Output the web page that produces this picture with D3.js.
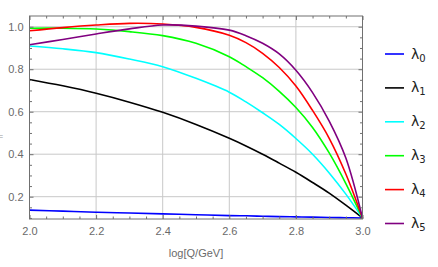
<!DOCTYPE html>
<html>
<head>
<meta charset="utf-8">
<script src="https://cdn.jsdelivr.net/npm/d3@7"></script>
<style>
  body { margin: 0; background: #fff; }
  svg { display: block; font-family: "Liberation Sans", Arial, sans-serif; }
</style>
</head>
<body>
<svg id="chart" width="438" height="267"></svg>
<script>
// sample points along log[Q/GeV]
const xs = [2.0, 2.1, 2.2, 2.3, 2.4, 2.5, 2.6, 2.65, 2.7, 2.75, 2.8, 2.85, 2.9, 2.95, 3.0];

const lambda0 = [0.137, 0.132, 0.127, 0.123, 0.119, 0.115, 0.111, 0.11, 0.108, 0.106, 0.105, 0.104, 0.102, 0.101, 0.1];
const lambda1 = [0.752, 0.722, 0.687, 0.645, 0.597, 0.54, 0.475, 0.439, 0.40, 0.358, 0.315, 0.267, 0.217, 0.16, 0.1];
const lambda2 = [0.909, 0.896, 0.878, 0.848, 0.812, 0.757, 0.692, 0.646, 0.595, 0.54, 0.474, 0.40, 0.312, 0.212, 0.1];
const lambda3 = [0.993, 0.993, 0.989, 0.977, 0.958, 0.922, 0.859, 0.812, 0.76, 0.696, 0.62, 0.526, 0.406, 0.262, 0.1];
const lambda4 = [0.981, 0.996, 1.008, 1.016, 1.013, 0.997, 0.96, 0.925, 0.875, 0.808, 0.721, 0.606, 0.475, 0.307, 0.1];
const lambda5 = [0.915, 0.94, 0.966, 0.99, 1.008, 1.003, 0.984, 0.958, 0.922, 0.872, 0.795, 0.69, 0.556, 0.382, 0.1];

const seriesNames = ['0', '1', '2', '3', '4', '5'];
const seriesValues = [lambda0, lambda1, lambda2, lambda3, lambda4, lambda5];
const colors = ['#0000ff', '#000000', '#00ffff', '#00ff00', '#ff0000', '#800080'];

const xTicks = [2.0, 2.2, 2.4, 2.6, 2.8, 3.0];
const yTicks = [0.2, 0.4, 0.6, 0.8, 1.0];

const svg = d3.select('#chart');
const pLeft = 29.5, pRight = 362.5, pTop = 16, pBottom = 219;

const x = d3.scaleLinear().domain([2, 3]).range([pLeft, pRight]);
const y = d3.scaleLinear().domain([0.095, 1.0505]).range([pBottom, pTop]);

const gridColor = '#c8c8c8';
const frameColor = '#707070';
const labelColor = '#6a6a6a';

// grid
const grid = svg.append('g').attr('stroke', gridColor).attr('stroke-width', 1);
grid.selectAll('line.gx')
    .data(xTicks.filter(d => d > 2 && d < 3))
    .enter().append('line')
    .attr('x1', d => x(d)).attr('x2', d => x(d))
    .attr('y1', pTop).attr('y2', pBottom);
grid.selectAll('line.gy')
    .data(yTicks)
    .enter().append('line')
    .attr('x1', pLeft).attr('x2', pRight)
    .attr('y1', d => y(d)).attr('y2', d => y(d));

// curves
const line = d3.line()
    .x((d, i) => x(xs[i]))
    .y(d => y(d))
    .curve(d3.curveCatmullRom.alpha(0.5));

const plot = svg.append('g');
seriesValues.forEach((vals, k) => {
    plot.append('path')
        .datum(vals)
        .attr('fill', 'none')
        .attr('stroke', colors[k])
        .attr('stroke-width', 1.6)
        .attr('stroke-linejoin', 'round')
        .attr('d', line);
});

// frame with inward ticks
const xMinor = d3.range(2.0, 3.0001, 0.05).filter(v => !xTicks.some(t => Math.abs(t - v) < 1e-6));
const yMinor = d3.range(0.1, 1.05, 0.05).filter(v => !yTicks.some(t => Math.abs(t - v) < 1e-6));

const axB = svg.append('g').attr('transform', `translate(0,${pBottom})`)
    .call(d3.axisBottom(x).tickValues(xTicks).tickSize(-4).tickPadding(8).tickFormat(d3.format('.1f')));
const axBm = svg.append('g').attr('transform', `translate(0,${pBottom})`)
    .call(d3.axisBottom(x).tickValues(xMinor).tickSize(-2.5).tickFormat(''));
const axT = svg.append('g').attr('transform', `translate(0,${pTop})`)
    .call(d3.axisTop(x).tickValues(xTicks).tickSize(-4).tickFormat(''));
const axTm = svg.append('g').attr('transform', `translate(0,${pTop})`)
    .call(d3.axisTop(x).tickValues(xMinor).tickSize(-2.5).tickFormat(''));
const axL = svg.append('g').attr('transform', `translate(${pLeft},0)`)
    .call(d3.axisLeft(y).tickValues(yTicks).tickSize(-4).tickPadding(6).tickFormat(d3.format('.1f')));
const axLm = svg.append('g').attr('transform', `translate(${pLeft},0)`)
    .call(d3.axisLeft(y).tickValues(yMinor).tickSize(-2.5).tickFormat(''));
const axR = svg.append('g').attr('transform', `translate(${pRight},0)`)
    .call(d3.axisRight(y).tickValues(yTicks).tickSize(-4).tickFormat(''));
const axRm = svg.append('g').attr('transform', `translate(${pRight},0)`)
    .call(d3.axisRight(y).tickValues(yMinor).tickSize(-2.5).tickFormat(''));

[axB, axBm, axT, axTm, axL, axLm, axR, axRm].forEach(a => {
    a.select('.domain').remove();
    a.selectAll('line').attr('stroke', frameColor);
    a.selectAll('text').attr('fill', labelColor).attr('font-size', 11)
        .attr('font-family', '"Liberation Sans", Arial, sans-serif');
});

svg.append('rect')
    .attr('x', pLeft).attr('y', pTop)
    .attr('width', pRight - pLeft).attr('height', pBottom - pTop)
    .attr('fill', 'none').attr('stroke', frameColor).attr('stroke-width', 1);

// axis label
svg.append('text')
    .attr('x', (pLeft + pRight) / 2).attr('y', 257)
    .attr('text-anchor', 'middle')
    .attr('fill', labelColor).attr('font-size', 11)
    .text('log[Q/GeV]');

// stray mark at left
svg.append('text')
    .attr('x', -1).attr('y', 139)
    .attr('fill', '#999').attr('font-size', 7)
    .text('=');

// legend
const legend = svg.append('g');
seriesNames.forEach((name, k) => {
    const ly = 54 + k * 33.9;
    legend.append('line')
        .attr('x1', 385).attr('x2', 404)
        .attr('y1', ly).attr('y2', ly)
        .attr('stroke', colors[k]).attr('stroke-width', 1.6);
    const t = legend.append('text')
        .attr('x', 411).attr('y', ly + 4.5)
        .attr('fill', '#222').attr('font-size', 14)
        .attr('font-family', '"DejaVu Sans", sans-serif');
    t.append('tspan').text('λ');
    t.append('tspan').attr('dy', 3).attr('font-size', 10).text(name);
});
</script>
</body>
</html>
